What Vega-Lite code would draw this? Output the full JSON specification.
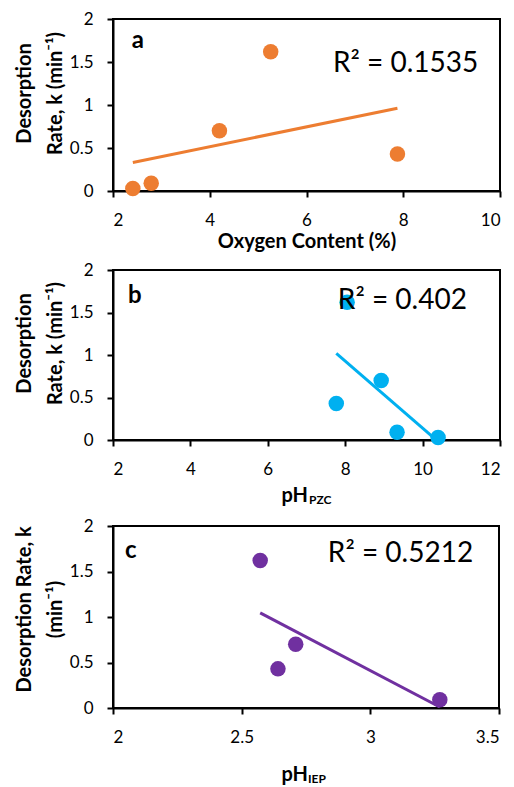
{
  "$schema": "https://vega.github.io/schema/vega-lite/v6.json",
  "padding": {"left": 13, "top": 9, "right": 0, "bottom": 0},
  "background": "white",
  "datasets": {
    "oxygen": [
      {"oxygen": 2.41, "k": 0.03},
      {"oxygen": 2.79, "k": 0.09},
      {"oxygen": 4.2, "k": 0.7},
      {"oxygen": 5.26, "k": 1.62},
      {"oxygen": 7.88, "k": 0.43}
    ],
    "pzc": [
      {"ph_pzc": 7.77, "k": 0.43},
      {"ph_pzc": 8.05, "k": 1.62},
      {"ph_pzc": 8.93, "k": 0.7},
      {"ph_pzc": 9.34, "k": 0.09},
      {"ph_pzc": 10.4, "k": 0.03}
    ],
    "iep": [
      {"ph_iep": 2.572, "k": 1.62},
      {"ph_iep": 2.641, "k": 0.43},
      {"ph_iep": 2.71, "k": 0.7},
      {"ph_iep": 3.27, "k": 0.09}
    ]
  },
  "spacing": 8,
  "vconcat": [
    {
      "width": 387,
      "height": 172,
      "data": {"name": "oxygen"},
      "encoding": {
        "x": {"type": "quantitative", "scale": {"domain": [2, 10], "nice": false, "zero": false},
              "axis": {"values": [2, 4, 6, 8, 10], "format": "~r", "title": "Oxygen Content (%)", "titleY": 56, "titleBaseline": "alphabetic"}},
        "y": {"type": "quantitative", "scale": {"domain": [0, 2], "nice": false},
              "axis": {"values": [0, 0.5, 1, 1.5, 2], "format": "~r", "title": ["Desorption", "Rate, k (min⁻¹)"], "titleY": 74}}
      },
      "layer": [
        {
          "transform": [{"regression": "k", "on": "oxygen"}],
          "mark": {"type": "line", "color": "#ED7D31", "strokeWidth": 3, "clip": true},
          "encoding": {"x": {"field": "oxygen"}, "y": {"field": "k"}}
        },
        {
          "mark": {"type": "circle", "color": "#ED7D31", "opacity": 1, "size": 240},
          "encoding": {"x": {"field": "oxygen"}, "y": {"field": "k"}}
        },
        {
          "data": {"values": [{}]},
          "mark": {"type": "text", "text": "a", "fontSize": 24, "fontWeight": "bold", "align": "left", "baseline": "alphabetic", "color": "black"},
          "encoding": {"x": {"datum": 2.39}, "y": {"datum": 1.663}}
        },
        {
          "data": {"values": [{}]},
          "mark": {"type": "text", "text": "R² = 0.1535", "fontSize": 28, "align": "left", "baseline": "alphabetic", "color": "black"},
          "encoding": {"x": {"datum": 6.548}, "y": {"datum": 1.387}}
        }
      ]
    },
    {
      "width": 387,
      "height": 170,
      "data": {"name": "pzc"},
      "encoding": {
        "x": {"type": "quantitative", "scale": {"domain": [2, 12], "nice": false, "zero": false},
              "axis": {"values": [2, 4, 6, 8, 10, 12], "format": "~r", "title": "pH", "titleX": 168, "titleAlign": "left", "titleY": 61, "titleBaseline": "alphabetic"}},
        "y": {"type": "quantitative", "scale": {"domain": [0, 2], "nice": false},
              "axis": {"values": [0, 0.5, 1, 1.5, 2], "format": "~r", "title": ["Desorption", "Rate, k (min⁻¹)"], "titleY": 73}}
      },
      "layer": [
        {
          "transform": [{"regression": "k", "on": "ph_pzc"}],
          "mark": {"type": "line", "color": "#00B0F0", "strokeWidth": 3, "clip": true},
          "encoding": {"x": {"field": "ph_pzc"}, "y": {"field": "k"}}
        },
        {
          "mark": {"type": "circle", "color": "#00B0F0", "opacity": 1, "size": 240},
          "encoding": {"x": {"field": "ph_pzc"}, "y": {"field": "k"}}
        },
        {
          "data": {"values": [{}]},
          "mark": {"type": "text", "text": "b", "fontSize": 24, "fontWeight": "bold", "align": "left", "baseline": "alphabetic", "color": "black"},
          "encoding": {"x": {"datum": 2.39}, "y": {"datum": 1.61}}
        },
        {
          "data": {"values": [{}]},
          "mark": {"type": "text", "text": "R² = 0.402", "fontSize": 28, "align": "left", "baseline": "alphabetic", "color": "black"},
          "encoding": {"x": {"datum": 7.81}, "y": {"datum": 1.54}}
        },
        {
          "data": {"values": [{}]},
          "mark": {"type": "text", "text": "PZC", "fontSize": 12, "fontWeight": "bold", "align": "left", "baseline": "alphabetic", "color": "black"},
          "encoding": {"x": {"datum": 7.065}, "y": {"datum": -0.753}}
        }
      ]
    },
    {
      "width": 386,
      "height": 182,
      "data": {"name": "iep"},
      "encoding": {
        "x": {"type": "quantitative", "scale": {"domain": [2, 3.5], "nice": false, "zero": false},
              "axis": {"values": [2, 2.5, 3, 3.5], "format": "~r", "title": "pH", "titleX": 168, "titleAlign": "left", "titleY": 72, "titleBaseline": "alphabetic"}},
        "y": {"type": "quantitative", "scale": {"domain": [0, 2], "nice": false},
              "axis": {"values": [0, 0.5, 1, 1.5, 2], "format": "~r", "title": ["Desorption Rate, k", "(min⁻¹)"], "titleY": 83}}
      },
      "layer": [
        {
          "transform": [{"regression": "k", "on": "ph_iep"}],
          "mark": {"type": "line", "color": "#7030A0", "strokeWidth": 3, "clip": true},
          "encoding": {"x": {"field": "ph_iep"}, "y": {"field": "k"}}
        },
        {
          "mark": {"type": "circle", "color": "#7030A0", "opacity": 1, "size": 240},
          "encoding": {"x": {"field": "ph_iep"}, "y": {"field": "k"}}
        },
        {
          "data": {"values": [{}]},
          "mark": {"type": "text", "text": "c", "fontSize": 24, "fontWeight": "bold", "align": "left", "baseline": "alphabetic", "color": "black"},
          "encoding": {"x": {"datum": 2.047}, "y": {"datum": 1.648}}
        },
        {
          "data": {"values": [{}]},
          "mark": {"type": "text", "text": "R² = 0.5212", "fontSize": 28, "align": "left", "baseline": "alphabetic", "color": "black"},
          "encoding": {"x": {"datum": 2.835}, "y": {"datum": 1.604}}
        },
        {
          "data": {"values": [{}]},
          "mark": {"type": "text", "text": "IEP", "fontSize": 12, "fontWeight": "bold", "align": "left", "baseline": "alphabetic", "color": "black"},
          "encoding": {"x": {"datum": 2.758}, "y": {"datum": -0.824}}
        }
      ]
    }
  ],
  "config": {
    "font": "Lato",
    "view": {"stroke": "black", "strokeWidth": 2},
    "axis": {
      "grid": false,
      "domainColor": "black", "domainWidth": 2,
      "tickColor": "black", "tickWidth": 2, "tickSize": 6,
      "labelFont": "Lato", "labelFontSize": 17, "labelColor": "black", "labelPadding": 14,
      "titleFont": "Lato", "titleFontSize": 20, "titleFontWeight": "bold", "titleColor": "black",
      "titleLineHeight": 31, "titlePadding": 4
    },
    "axisX": {"labelPadding": 15}
  }
}
